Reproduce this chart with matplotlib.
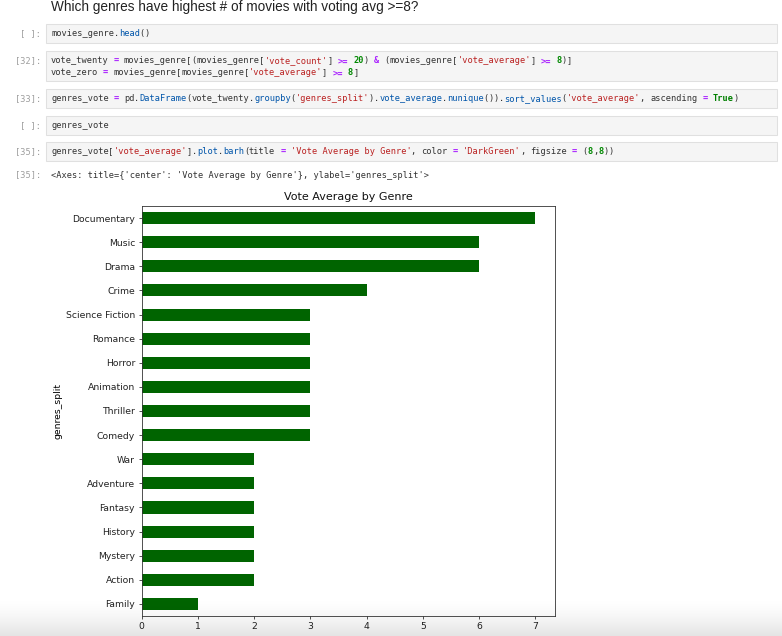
import re
import numpy as np
import pandas as pd
import matplotlib
matplotlib.use("Agg")
import matplotlib.pyplot as plt
from matplotlib.patches import Rectangle

W, H = 782, 636

# -----------------------------
# data
# -----------------------------
genres = ['Family', 'Action', 'Mystery', 'History', 'Fantasy', 'Adventure', 'War',
          'Comedy', 'Thriller', 'Animation', 'Horror', 'Romance', 'Science Fiction',
          'Crime', 'Drama', 'Music', 'Documentary']
vote_avg = [1, 2, 2, 2, 2, 2, 2, 3, 3, 3, 3, 3, 3, 4, 6, 6, 7]

heading = "Which genres have highest # of movies with voting avg >=8?"
prompts = ["[ ]:", "[32]:", "[33]:", "[ ]:", "[35]:"]
code_lines = [
    ["movies_genre.head()"],
    ["vote_twenty = movies_genre[(movies_genre['vote_count'] >= 20) & (movies_genre['vote_average'] >= 8)]",
     "vote_zero = movies_genre[movies_genre['vote_average'] >= 8]"],
    ["genres_vote = pd.DataFrame(vote_twenty.groupby('genres_split').vote_average.nunique()).sort_values('vote_average', ascending = True)"],
    ["genres_vote"],
    ["genres_vote['vote_average'].plot.barh(title = 'Vote Average by Genre', color = 'DarkGreen', figsize = (8,8))"],
]
out_prompt = "[35]:"
out_text = "<Axes: title={'center': 'Vote Average by Genre'}, ylabel='genres_split'>"

# cell boxes, pixel rows (top, bottom)
cell_rows = [(24, 43), (51, 81), (89, 108), (116, 135), (142, 161)]

CW = 5.21          # px per monospace char
CODE_PT = 6.23
X_CODE = 51
MONO = 'DejaVu Sans Mono'

fig = plt.figure(figsize=(W / 100, H / 100), dpi=100)
fig.patch.set_facecolor('white')


def fx(x):
    return x / W


def fy(y):
    return 1 - y / H


# -----------------------------
# tiny syntax highlighter
# -----------------------------
TOK = re.compile(r"('[^']*')|(\d+)|(>=|==|=|&)|(\.\w+)|(True|False)|(\w+)|(\s+)|(.)")
STYLE = {
    1: ('#ba2121', 'normal'),
    2: ('#008800', 'bold'),
    3: ('#aa22ff', 'bold'),
    5: ('#008000', 'bold'),
    6: ('#333333', 'normal'),
    8: ('#333333', 'normal'),
}


def put(col, y, txt, color, weight='normal'):
    fig.text(fx(X_CODE + col * CW), fy(y), txt, family=MONO, size=CODE_PT,
             color=color, weight=weight, va='center', ha='left')


def draw_code(y, line):
    col = 0
    for m in TOK.finditer(line):
        tok = m.group(0)
        kind = m.lastindex
        if kind == 7:
            pass
        elif kind == 4:
            put(col, y, '.', '#333333')
            put(col + 1, y, tok[1:], '#0055aa')
        else:
            c, w = STYLE[kind]
            put(col, y, tok, c, w)
        col += len(tok)


# heading (sits right at the top edge of the screenshot)
fig.text(fx(51), fy(10.5), heading, family='Liberation Sans', size=9.8,
         color='#222222', va='baseline', ha='left')

for prompt, lines, (top, bot) in zip(prompts, code_lines, cell_rows):
    fig.add_artist(Rectangle((fx(46), fy(bot)), fx(777) - fx(46), fy(top) - fy(bot),
                             transform=fig.transFigure, facecolor='#f5f5f5',
                             edgecolor='#e0e0e0', linewidth=0.75))
    y0 = top + 9.5
    fig.text(fx(41), fy(y0), prompt, family=MONO, size=CODE_PT, color='#9e9e9e',
             va='center', ha='right')
    for i, ln in enumerate(lines):
        draw_code(y0 + 12 * i, ln)

fig.text(fx(41), fy(175), out_prompt, family=MONO, size=CODE_PT, color='#9e9e9e',
         va='center', ha='right')
fig.text(fx(X_CODE), fy(175), out_text, family=MONO, size=CODE_PT, color='#333333',
         va='center', ha='left')

# -----------------------------
# the chart itself
# -----------------------------
s = pd.Series(vote_avg, index=pd.Index(genres, name='genres_split'), name='vote_average')
ax = fig.add_axes([fx(141.5), fy(616), fx(555) - fx(141.5), fy(206) - fy(616)])
s.plot.barh(ax=ax, color='darkgreen')
ax.set_title('Vote Average by Genre', fontsize=8, pad=4, color='#111111')
ax.set_ylabel('genres_split', fontsize=6.7, labelpad=2.7)
ax.tick_params(labelsize=6.7, length=2.3, width=0.55, pad=2.3, colors='#222222')
for sp in ax.spines.values():
    sp.set_linewidth(0.6)
    sp.set_color('#333333')

# grey fade at the bottom edge of the screenshot
gax = fig.add_axes([0, 0, 1, 40 / H], zorder=10)
gax.axis('off')
gax.patch.set_alpha(0)
ramp = np.linspace(0, 1, 60) ** 1.6
rgba = np.zeros((60, 1, 4))
rgba[:, 0, 3] = 0.11 * ramp
gax.imshow(rgba, aspect='auto', extent=[0, 1, 0, 1], interpolation='bilinear')

fig.savefig('out.png', dpi=100)
